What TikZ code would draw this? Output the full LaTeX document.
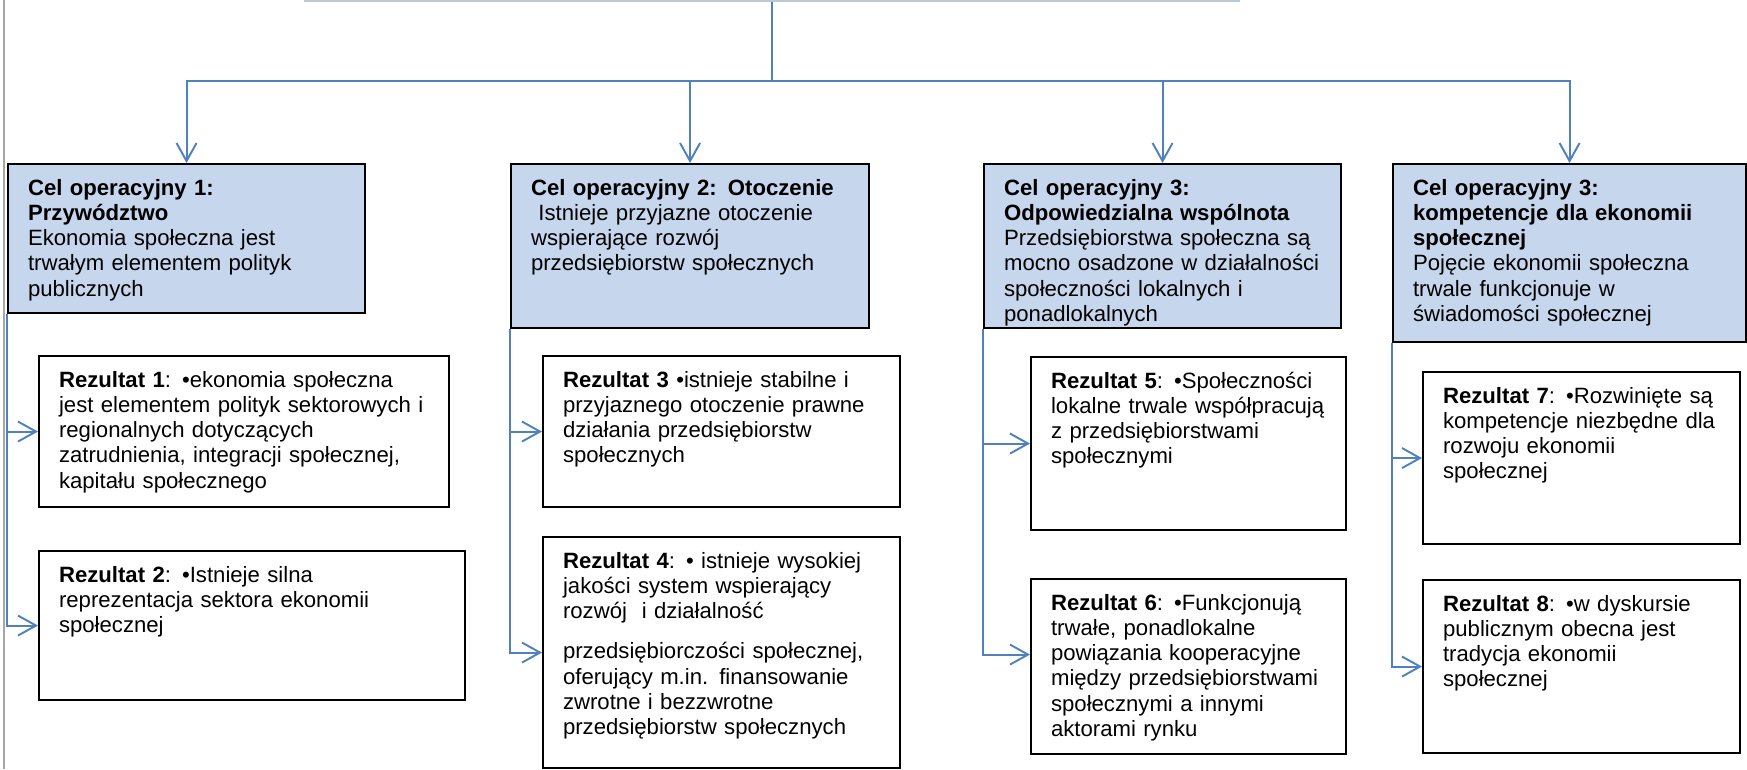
\documentclass[tikz,border=0pt]{standalone}
\usepackage{fontspec}
\setmainfont{Liberation Sans}
\usetikzlibrary{arrows.meta}

\definecolor{celblue}{HTML}{C6D6EC}
\definecolor{linkblue}{HTML}{4F81BD}
\definecolor{framegray}{HTML}{A6A6A6}
\definecolor{topgray}{HTML}{BCC8D8}

\begin{document}
\begin{tikzpicture}[
    font=\fontsize{12.6}{14.4}\selectfont,
    % Goal boxes (blue)
    celbox/.style={
        draw=black,
        line width=1.2pt,
        fill=celblue,
        anchor=north west,
        align=left,
        inner xsep=0.4cm,
        inner ysep=0.2cm,
        text height=0.42cm
    },
    % Result boxes (white)
    rezbox/.style={
        draw=black,
        line width=1.2pt,
        fill=white,
        anchor=north west,
        align=left,
        inner xsep=0.4cm,
        inner ysep=0.2cm,
        text height=0.42cm
    },
    % Connector styles
    link/.style={draw=linkblue, line width=1.1pt},
    arrow/.style={link, -{Straight Barb[length=3.6mm,width=4mm]}}
    ]

    % Page area and left frame line
    \clip (0,0) rectangle (34.94,-15.38);
    \draw[framegray, line width=0.6pt] (0.08,0) -- (0.08,-15.38);

    % Main goal box (cut off at the top)
    \node[draw=topgray, line width=1pt, minimum width=18.68cm, minimum height=2cm, anchor=south] (goal) at (15.44,-0.03) {};
    \coordinate (bus) at (15.44,-1.62);

    % Operational goals
    \node[celbox, text width=6.34cm, text depth=2.16cm] (cel1) at (0.14,-3.26) {\textbf{Cel operacyjny 1:}\\\textbf{Przywództwo}\\Ekonomia społeczna jest\\trwałym elementem polityk\\publicznych};

    \node[celbox, text width=6.36cm, text depth=2.46cm] (cel2) at (10.2,-3.26) {\textbf{Cel operacyjny 2: Otoczenie}\\\ Istnieje przyjazne otoczenie\\wspierające rozwój\\przedsiębiorstw społecznych};

    \node[celbox, text width=6.34cm, text depth=2.46cm] (cel3) at (19.66,-3.26) {\textbf{Cel operacyjny 3:}\\\textbf{Odpowiedzialna wspólnota}\\Przedsiębiorstwa społeczna są\\mocno osadzone w działalności\\społeczności lokalnych i\\ponadlokalnych};

    \node[celbox, text width=6.26cm, text depth=2.74cm] (cel4) at (27.84,-3.26) {\textbf{Cel operacyjny 3:}\\\textbf{kompetencje dla ekonomii}\\\textbf{społecznej}\\Pojęcie ekonomii społeczna\\trwale funkcjonuje w\\świadomości społecznej};

    % Results
    \node[rezbox, text width=7.4cm, text depth=2.2cm] (rez1) at (0.76,-7.10) {\textbf{Rezultat 1}: •ekonomia społeczna\\jest elementem polityk sektorowych i\\regionalnych dotyczących\\zatrudnienia, integracji społecznej,\\kapitału społecznego};

    \node[rezbox, text width=7.72cm, text depth=2.16cm] (rez2) at (0.76,-11.0) {\textbf{Rezultat 2}: •Istnieje silna\\reprezentacja sektora ekonomii\\społecznej};

    \node[rezbox, text width=6.34cm, text depth=2.2cm] (rez3) at (10.84,-7.10) {\textbf{Rezultat 3} •istnieje stabilne i\\przyjaznego otoczenie prawne\\działania przedsiębiorstw\\społecznych};

    \node[rezbox, text width=6.34cm, text depth=3.8cm] (rez4) at (10.84,-10.72) {\textbf{Rezultat 4}: • istnieje wysokiej\\jakości system wspierający\\rozwój\ \ i działalność\\[0.3cm]przedsiębiorczości społecznej,\\oferujący m.in. finansowanie\\zwrotne i bezzwrotne\\przedsiębiorstw społecznych};

    \node[rezbox, text width=5.5cm, text depth=2.64cm] (rez5) at (20.6,-7.12) {\textbf{Rezultat 5}: •Społeczności\\lokalne trwale współpracują\\z przedsiębiorstwami\\społecznymi};

    \node[rezbox, text width=5.5cm, text depth=2.68cm] (rez6) at (20.6,-11.56) {\textbf{Rezultat 6}: •Funkcjonują\\trwałe, ponadlokalne\\powiązania kooperacyjne\\między przedsiębiorstwami\\społecznymi a innymi\\aktorami rynku};

    \node[rezbox, text width=5.54cm, text depth=2.62cm] (rez7) at (28.44,-7.42) {\textbf{Rezultat 7}: •Rozwinięte są\\kompetencje niezbędne dla\\rozwoju ekonomii\\społecznej};

    \node[rezbox, text width=5.54cm, text depth=2.64cm] (rez8) at (28.44,-11.58) {\textbf{Rezultat 8}: •w dyskursie\\publicznym obecna jest\\tradycja ekonomii\\społecznej};

    % Tree from the main goal to the operational goals
    \draw[link] (goal.south) -- (bus);
    \draw[arrow] (bus) -| (cel1.north);
    \draw[arrow] (bus) -| (cel2.north);
    \draw[arrow] (bus) -| (cel3.north);
    \draw[arrow] (bus) -| (cel4.north);

    % Side connectors to the results
    \draw[arrow] (cel1.south west) |- (rez1.west);
    \draw[arrow] (cel1.south west) |- (rez2.west);
    \draw[arrow] (cel2.south west) |- (rez3.west);
    \draw[arrow] (cel2.south west) |- (rez4.west);
    \draw[arrow] (cel3.south west) |- (rez5.west);
    \draw[arrow] (cel3.south west) |- ([yshift=0.24cm]rez6.west);
    \draw[arrow] (cel4.south west) |- (rez7.west);
    \draw[arrow] (cel4.south west) |- (rez8.west);

\end{tikzpicture}
\end{document}
